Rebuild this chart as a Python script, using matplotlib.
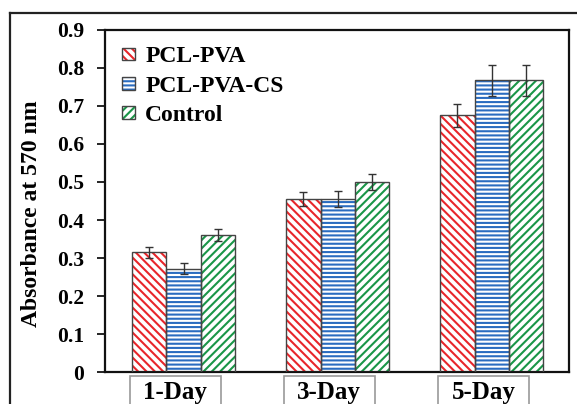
import numpy as np
import matplotlib
matplotlib.use("Agg")
import matplotlib.pyplot as plt
from matplotlib.patches import Patch, Rectangle
from matplotlib.lines import Line2D
from matplotlib.legend_handler import HandlerTuple

plt.rcParams['font.family'] = 'Liberation Serif'
plt.rcParams['font.weight'] = 'bold'
plt.rcParams['hatch.linewidth'] = 1.5

days = ['1-Day', '3-Day', '5-Day']
series = ['PCL-PVA', 'PCL-PVA-CS', 'Control']
pcl_pva = [0.315, 0.455, 0.675]
pcl_pva_cs = [0.272, 0.455, 0.767]
control = [0.360, 0.500, 0.767]
pcl_pva_err = [0.015, 0.018, 0.030]
pcl_pva_cs_err = [0.015, 0.020, 0.040]
control_err = [0.016, 0.022, 0.040]

colors = ['#e8262b', '#2a6cc0', '#1a9648']
hatches = ['\\\\\\\\', '----', '////']

fig = plt.figure(figsize=(5.77, 4.04), dpi=100)
ax = fig.add_axes([0.182, 0.079, 0.804, 0.847])

x = np.arange(len(days))
w = 0.223
values = [pcl_pva, pcl_pva_cs, control]
errs = [pcl_pva_err, pcl_pva_cs_err, control_err]
handles = []
for i in range(3):
    pos = x + (i - 1) * w
    # hatch layer, then a separate grey outline on top
    ax.bar(pos, values[i], w, facecolor='white', edgecolor=colors[i],
           hatch=hatches[i], linewidth=0, zorder=2)
    ax.bar(pos, values[i], w, facecolor='none', edgecolor='#444444',
           linewidth=1.0, zorder=3)
    ax.errorbar(pos, values[i], yerr=errs[i], fmt='none', ecolor='#333333',
                elinewidth=1.0, capsize=3, capthick=1.0, zorder=4)
    handles.append((Patch(facecolor='white', edgecolor=colors[i], hatch=hatches[i], linewidth=0),
                    Patch(facecolor='none', edgecolor='#444444', linewidth=1.0)))

ax.set_xlim(-0.51, 2.5)
ax.set_ylim(0, 0.9)
ax.set_yticks(np.arange(0, 0.91, 0.1))
ax.set_yticklabels(['0'] + ['%.1f' % v for v in np.arange(0.1, 0.91, 0.1)])
ax.tick_params(axis='y', labelsize=15.5, direction='out', length=6, width=1.2, pad=9)
ax.set_xticks([])
for s in ax.spines.values():
    s.set_linewidth(1.6)
    s.set_color('#111111')

ax.set_ylabel('Absorbance at 570 nm', fontsize=17, fontweight='bold')
ax.yaxis.set_label_coords(-0.135, 0.463)

# category labels in grey boxes under the axis
for xi, d in zip(x, days):
    ax.add_patch(Rectangle((xi - 0.055 - 0.295, -0.15), 0.59, 0.138,
                           transform=ax.get_xaxis_transform(), clip_on=False,
                           facecolor='white', edgecolor='#999999', linewidth=1.2))
    ax.text(xi - 0.055, -0.06, d, transform=ax.get_xaxis_transform(),
            ha='center', va='center', fontsize=18, fontweight='bold')

ax.legend(handles, series, loc='upper left', frameon=False, fontsize=17,
          handler_map={tuple: HandlerTuple(ndivide=1, pad=0)},
          handlelength=0.55, handleheight=0.45, handletextpad=0.45,
          labelspacing=0.35, borderaxespad=0.3, bbox_to_anchor=(0.0, 1.0))

# outer frame
fig.add_artist(Line2D([0.0173, 0.0173], [0, 0.968], transform=fig.transFigure,
                      color='#222222', linewidth=1.6))
fig.add_artist(Line2D([0.0173, 1.0], [0.968, 0.968], transform=fig.transFigure,
                      color='#222222', linewidth=1.6))

fig.savefig('out.png', dpi=100, facecolor='white')
